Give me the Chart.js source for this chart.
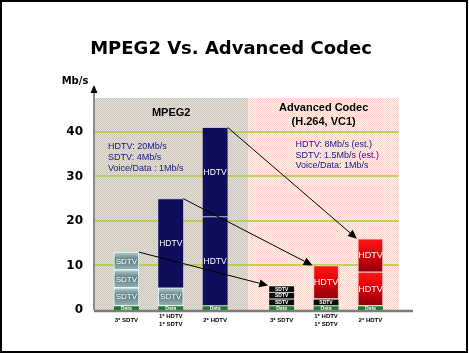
<!DOCTYPE html>
<html><head><meta charset="utf-8">
<script src="https://cdn.jsdelivr.net/npm/chart.js@4.4.0/dist/chart.umd.min.js"></script>
<style>html,body{margin:0;padding:0;background:#fff;overflow:hidden}</style>
</head><body>
<canvas id="c" width="469" height="353"></canvas>
<script>
// ---- data ----
const chartTitle = 'MPEG2 Vs. Advanced Codec';
const yUnit = 'Mb/s';
const categories = [['3* SDTV'], ['1* HDTV', '1* SDTV'], ['2* HDTV'], ['3* SDTV'], ['1* HDTV', '1* SDTV'], ['2* HDTV']];
const groupOf = ['MPEG2', 'MPEG2', 'MPEG2', 'Advanced', 'Advanced', 'Advanced'];
const groupTitles = { MPEG2: ['MPEG2'], Advanced: ['Advanced Codec', '(H.264, VC1)'] };
const groupNotes = {
  MPEG2: ['HDTV: 20Mb/s', 'SDTV: 4Mb/s', 'Voice/Data : 1Mb/s'],
  Advanced: ['HDTV: 8Mb/s (est.)', 'SDTV: 1.5Mb/s (est.)', 'Voice/Data: 1Mb/s']
};
const yTicks = [0, 10, 20, 30, 40];
// stacked layers, bottom to top (Mb/s)
const layer1Values = [1, 1, 1, 1, 1, 1];
const layer1Kinds  = ['Data', 'Data', 'Data', 'Data', 'Data', 'Data'];
const layer2Values = [4, 4, 20, 1.5, 1.5, 7.5];
const layer2Kinds  = ['SDTV', 'SDTV', 'HDTV', 'SDTV', 'SDTV', 'HDTV'];
const layer3Values = [4, 20, 20, 1.5, 7.5, 7.5];
const layer3Kinds  = ['SDTV', 'HDTV', 'HDTV', 'SDTV', 'HDTV', 'HDTV'];
const layer4Values = [4, null, null, 1.5, null, null];
const layer4Kinds  = ['SDTV', null, null, 'SDTV', null, null];

// ---- build ----
const layers = [
  { values: layer1Values, kinds: layer1Kinds },
  { values: layer2Values, kinds: layer2Kinds },
  { values: layer3Values, kinds: layer3Kinds },
  { values: layer4Values, kinds: layer4Kinds }
];
const xPos = categories.map((c, i) => i + (groupOf[i] === 'Advanced' ? 0.5 : 0));

function stackStart(L, c) {
  let s = 0;
  for (let j = 0; j < L; j++) { const v = layers[j].values[c]; if (v != null) s += v; }
  return s;
}
function segInfo(ctx) {
  const raw = ctx.raw; if (!raw) return null;
  const L = ctx.datasetIndex, c = raw.c;
  return { L, c, kind: layers[L].kinds[c], group: groupOf[c] };
}
function segColor(ctx) {
  const s = segInfo(ctx); if (!s) return '#000';
  if (s.kind === 'Data') return '#1e7a2e';
  if (s.kind === 'HDTV' && s.group === 'MPEG2') return '#0e0e5c';
  if (s.kind === 'SDTV' && s.group === 'Advanced') return '#0c0c0c';
  const chart = ctx.chart, ys = chart.scales && chart.scales.y;
  const fallback = s.group === 'MPEG2' ? '#7a9898' : '#dd0000';
  if (!ys || !chart.chartArea) return fallback;
  const st = stackStart(s.L, s.c), en = st + layers[s.L].values[s.c];
  const yTop = ys.getPixelForValue(en), yBot = ys.getPixelForValue(st);
  if (!isFinite(yTop) || !isFinite(yBot)) return fallback;
  const g = chart.ctx.createLinearGradient(0, yTop, 0, yBot);
  if (s.group === 'MPEG2') {
    g.addColorStop(0, '#b4cece'); g.addColorStop(0.45, '#5a7c82'); g.addColorStop(1, '#98b2b4');
  } else {
    g.addColorStop(0, '#ff1616'); g.addColorStop(0.5, '#dc0006'); g.addColorStop(1, '#8a0010');
  }
  return g;
}
function segBorderColor(ctx) {
  const s = segInfo(ctx); if (!s) return '#fff';
  if (s.kind === 'Data') return '#d8f0d8';
  if (s.kind === 'HDTV' && s.group === 'MPEG2') return '#c0c0dc';
  if (s.kind === 'SDTV' && s.group === 'MPEG2') return '#e8ffff';
  if (s.kind === 'HDTV') return '#ffc4c4';
  return '#ffffff';
}
function segBorderWidth(ctx) {
  const s = segInfo(ctx); if (!s) return 0;
  if (s.kind === 'SDTV' && s.group === 'MPEG2') return 1;
  if (s.kind === 'HDTV' && s.group === 'Advanced') return 1;
  return { top: 1, left: 0, right: 0, bottom: 0 };
}

const datasets = layers.map((ly, L) => ({
  label: 'layer' + (L + 1),
  data: ly.values.map((v, c) => v == null ? null : { x: xPos[c], y: v, c: c }).filter(p => p),
  backgroundColor: segColor,
  borderColor: segBorderColor,
  borderWidth: segBorderWidth,
  borderSkipped: false,
  barThickness: 25
}));

function dither(ctx, c1, c2) {
  const p = document.createElement('canvas'); p.width = 2; p.height = 2;
  const g = p.getContext('2d');
  g.fillStyle = c1; g.fillRect(0, 0, 2, 2);
  g.fillStyle = c2; g.fillRect(0, 0, 1, 1); g.fillRect(1, 1, 1, 1);
  return ctx.createPattern(p, 'repeat');
}

function regions(chart) {
  const x = chart.scales.x, a = chart.chartArea;
  const split = (x.getPixelForValue(xPos[2]) + x.getPixelForValue(xPos[3])) / 2;
  const right = x.getPixelForValue(xPos[5]) + 28.5;
  return { left: a.left, split, right };
}

const decor = {
  id: 'decor',
  beforeDraw(chart) {
    const { ctx, chartArea: a, scales: { x, y } } = chart;
    const r = regions(chart);
    const y0 = y.getPixelForValue(0);
    ctx.save();
    ctx.fillStyle = '#fff'; ctx.fillRect(0, 0, chart.width, chart.height);
    ctx.fillStyle = dither(ctx, '#e6e0d8', '#ccc5bc');
    ctx.fillRect(r.left, a.top, r.split - r.left, y0 - a.top);
    ctx.fillStyle = dither(ctx, '#fff3ea', '#fbd2ca');
    ctx.fillRect(r.split, a.top, r.right - r.split, y0 - a.top);
    // gridlines
    ctx.strokeStyle = '#a8cc30'; ctx.lineWidth = 1.5;
    yTicks.forEach(v => {
      if (v === 0) return;
      const py = Math.round(y.getPixelForValue(v));
      ctx.beginPath(); ctx.moveTo(r.left, py); ctx.lineTo(r.right, py); ctx.stroke();
    });
    // frame
    ctx.strokeStyle = '#000'; ctx.lineWidth = 2;
    ctx.strokeRect(1, 1, chart.width - 3, chart.height - 2);
    ctx.restore();
  },
  afterDatasetsDraw(chart) {
    const { ctx, chartArea: a, scales: { x, y } } = chart;
    const r = regions(chart);
    const y0 = y.getPixelForValue(0);
    ctx.save();
    // segment labels and top elements
    const tops = [];
    chart.data.datasets.forEach((ds, L) => {
      const meta = chart.getDatasetMeta(L);
      meta.data.forEach((el, k) => {
        const c = ds.data[k].c;
        const kind = layers[L].kinds[c], grp = groupOf[c];
        const p = el.getProps(['x', 'y', 'base', 'width'], true);
        tops[c] = p;
        const cy = (p.y + p.base) / 2;
        ctx.fillStyle = '#fff'; ctx.textAlign = 'center'; ctx.textBaseline = 'middle';
        if (kind === 'Data') ctx.font = 'bold 5px "Liberation Sans"';
        else if (kind === 'SDTV' && grp === 'Advanced') ctx.font = 'bold 5px "Liberation Sans"';
        else if (kind === 'SDTV') ctx.font = '8px "Liberation Sans"';
        else if (grp === 'MPEG2') ctx.font = '8.5px "Liberation Sans"';
        else ctx.font = '9px "Liberation Sans"';
        ctx.fillText(kind, p.x, cy + 0.5);
      });
    });
    // arrows MPEG2 -> Advanced
    const mp = groupOf.map((g, i) => g === 'MPEG2' ? i : -1).filter(i => i >= 0);
    const ad = groupOf.map((g, i) => g === 'Advanced' ? i : -1).filter(i => i >= 0);
    ctx.strokeStyle = '#000'; ctx.fillStyle = '#000'; ctx.lineWidth = 1;
    mp.forEach((i, n) => {
      const s = tops[i], e = tops[ad[n]];
      const x1 = s.x + s.width / 2, y1 = s.y, x2 = e.x - e.width / 2 - 1, y2 = e.y;
      const ang = Math.atan2(y2 - y1, x2 - x1), L = 9, W = 4;
      const bx = x2 - L * Math.cos(ang), by = y2 - L * Math.sin(ang);
      ctx.beginPath(); ctx.moveTo(x1, y1); ctx.lineTo(bx, by); ctx.stroke();
      ctx.beginPath(); ctx.moveTo(x2, y2);
      ctx.lineTo(bx + W * Math.sin(ang), by - W * Math.cos(ang));
      ctx.lineTo(bx - W * Math.sin(ang), by + W * Math.cos(ang));
      ctx.closePath(); ctx.fill();
    });
    // axes lines
    ctx.strokeStyle = '#7c7c7c'; ctx.lineWidth = 2.5;
    ctx.beginPath(); ctx.moveTo(a.left, y0 + 1); ctx.lineTo(a.right, y0 + 1); ctx.stroke();
    ctx.strokeStyle = '#8a8a8a'; ctx.lineWidth = 2;
    ctx.beginPath(); ctx.moveTo(a.left, y0); ctx.lineTo(a.left, a.top - 6); ctx.stroke();
    ctx.fillStyle = '#000';
    ctx.beginPath(); ctx.moveTo(a.left, a.top - 13); ctx.lineTo(a.left - 3.5, a.top - 5); ctx.lineTo(a.left + 3.5, a.top - 5); ctx.closePath(); ctx.fill();
    // unit label
    ctx.font = 'bold 10px "DejaVu Sans"'; ctx.textAlign = 'center'; ctx.textBaseline = 'middle';
    ctx.fillText(yUnit, a.left - 19, a.top - 17);
    // group headers
    ctx.font = 'bold 11px "Liberation Sans"';
    ctx.fillText(groupTitles.MPEG2[0], (r.left + r.split) / 2, a.top + 15);
    const ac = (r.split + r.right) / 2;
    ctx.fillText(groupTitles.Advanced[0], ac, a.top + 10);
    ctx.fillText(groupTitles.Advanced[1], ac, a.top + 24);
    // notes
    ctx.font = '9px "Liberation Sans"'; ctx.fillStyle = '#16168a'; ctx.textAlign = 'left';
    groupNotes.MPEG2.forEach((t, i) => ctx.fillText(t, r.left + 14, a.top + 49 + i * 10.8));
    groupNotes.Advanced.forEach((t, i) => ctx.fillText(t, r.split + 47, a.top + 47 + i * 10.5));
    ctx.restore();
  }
};

new Chart(document.getElementById('c'), {
  type: 'bar',
  data: { datasets },
  options: {
    responsive: false,
    animation: false,
    devicePixelRatio: 1,
    layout: { padding: { left: 0, right: 7, top: 0, bottom: 0 } },
    plugins: {
      legend: { display: false },
      tooltip: { enabled: false },
      title: {
        display: true, text: chartTitle, color: '#000',
        font: { family: 'DejaVu Sans', size: 18, weight: 'bold', lineHeight: 1.2 },
        padding: { top: 39, bottom: 37.4 }
      }
    },
    scales: {
      x: {
        type: 'linear', stacked: true, min: -0.73, max: 6.46, offset: false,
        grid: { display: false, drawTicks: false }, border: { display: false },
        afterBuildTicks(s) { s.ticks = xPos.map(v => ({ value: v })); },
        afterFit(s) { s.height = 43; },
        ticks: {
          autoSkip: false, maxRotation: 0, minRotation: 0, crossAlign: 'center', padding: 6,
          color: '#000', font: { family: 'Liberation Sans', size: 6, weight: 'bold', lineHeight: 1.33 },
          callback(v, i) { return categories[i]; }
        }
      },
      y: {
        type: 'linear', stacked: true, min: 0, max: 47.6,
        grid: { display: false, drawTicks: false }, border: { display: false },
        afterBuildTicks(s) { s.ticks = yTicks.map(v => ({ value: v })); },
        afterFit(s) { s.width = 94; },
        ticks: { padding: 11, color: '#000', font: { family: 'DejaVu Sans', size: 12, weight: 'bold' } }
      },
      yR: {
        type: 'linear', position: 'right', display: true,
        grid: { display: false, drawTicks: false }, border: { display: false },
        ticks: { display: false },
        afterFit(s) { s.width = 49; }
      }
    }
  },
  plugins: [decor]
});
</script>
</body></html>
